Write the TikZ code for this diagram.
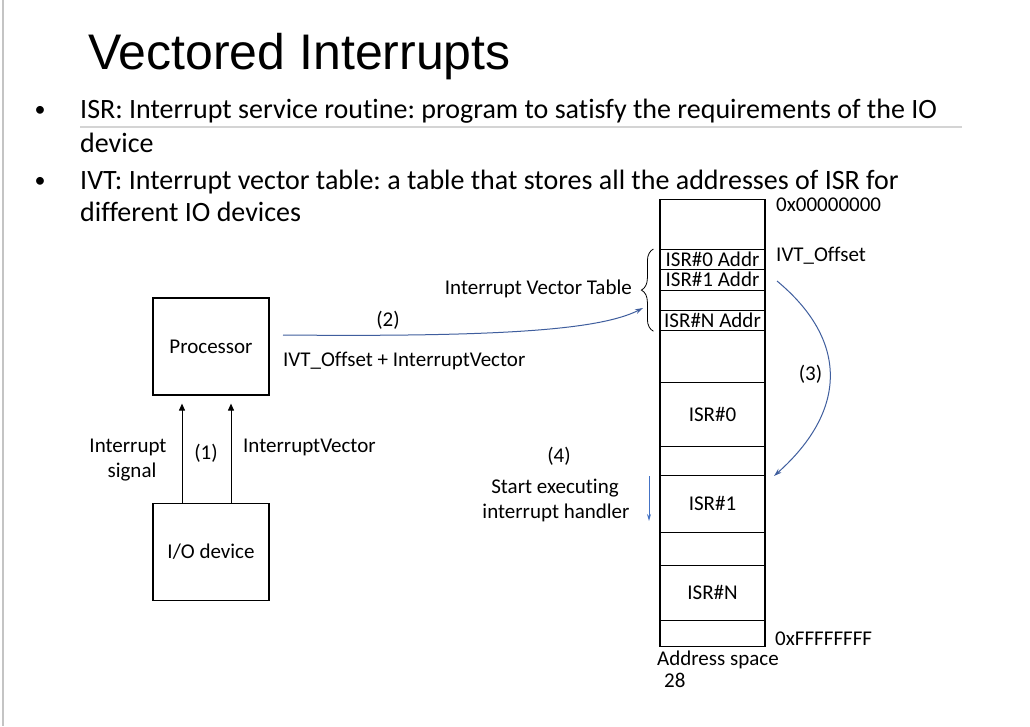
\documentclass[tikz,border=0pt]{standalone}
\usepackage{fontspec}
\setmainfont{Carlito}[RawFeature={-liga}]
\newfontfamily\titlefont{Liberation Sans}
\usetikzlibrary{arrows.meta,decorations.pathreplacing}
\definecolor{arrowblue}{HTML}{3F5E9E}
\definecolor{lightblue}{HTML}{4472C4}
\definecolor{rulegray}{HTML}{D4D4D4}
\definecolor{edgegray}{HTML}{C4C4C4}
\frenchspacing
\begin{document}
\begin{tikzpicture}[x=1pt,y=-1pt,
  txt/.style={inner sep=0pt, font=\fontsize{21}{25}\selectfont},
  bul/.style={inner sep=0pt, font=\fontsize{28}{34}\selectfont, anchor=base west},
  dot/.style={inner sep=0pt, font=\fontsize{22}{26}\selectfont, anchor=base},
  box/.style={draw, line width=1.2pt, minimum width=116pt, minimum height=97pt,
    inner sep=0pt, font=\fontsize{21}{25}\selectfont},
  cell/.style={draw, line width=1.2pt, minimum width=105pt, minimum height=#1,
    inner sep=0pt, anchor=north, text height=13pt, text depth=0pt,
    font=\fontsize{21}{25}\selectfont},
  blkarrow/.style={-{Triangle[length=7pt,width=6pt]}, line width=1pt},
  bluearrow/.style={-{Stealth[length=8pt,width=5pt]}, line width=1pt, arrowblue},
]
\useasboundingbox (0,0) rectangle (1030,726);
\fill[white] (0,0) rectangle (1030,726);

% slide frame edge
\draw[edgegray, line width=2pt] (3,0) -- (3,726);

% title
\node[anchor=base west, inner sep=0pt, font=\titlefont\fontsize{50}{60}\selectfont]
  (title) at (88,69) {Vectored Interrupts};

% bullet list
\node[dot] (b1) at (40,116) {•};
\node[bul] (l1) at (80,118) {ISR: Interrupt service routine: program to satisfy the requirements of the IO};
\node[bul] (l2) at (80,152) {device};
\node[dot] (b2) at (40,187) {•};
\node[bul] (l3) at (80,189) {IVT: Interrupt vector table: a table that stores all the addresses of ISR for};
\node[bul] (l4) at (80,221) {different IO devices};
\draw[rulegray, line width=1.5pt] (80,127) -- (962,127);

% processor and device
\node[box] (proc) at (211,346.5) {Processor};
\node[box] (io) at (211,552) {I/O device};
\draw[blkarrow, shorten >=8pt] ([xshift=-29pt]io.north) -- ([xshift=-29pt]proc.south);
\draw[blkarrow, shorten >=8pt] ([xshift=20pt]io.north) -- ([xshift=20pt]proc.south);
\node[txt, anchor=base] (sig1) at (128,452.5) {Interrupt};
\node[txt, anchor=base] (sig2) at (132,477.5) {signal};
\node[txt, anchor=base] (one) at (206,459) {(1)};
\node[txt, anchor=base west] (ivec) at (243,452.5) {InterruptVector};

% address space
\node[cell=50pt] (m0) at (712.5,199) {};
\node[cell=20pt] (m1) at (712.5,249) {ISR\#0 Addr};
\node[cell=21pt] (m2) at (712.5,269) {ISR\#1 Addr};
\node[cell=20pt] (m3) at (712.5,290) {};
\node[cell=20pt] (m4) at (712.5,310) {ISR\#N Addr};
\node[cell=52pt] (m5) at (712.5,330) {};
\node[cell=64pt] (m6) at (712.5,382) {ISR\#0};
\node[cell=29pt] (m7) at (712.5,446) {};
\node[cell=57pt] (m8) at (712.5,475) {ISR\#1};
\node[cell=33pt] (m9) at (712.5,532) {};
\node[cell=55pt] (m10) at (712.5,565) {ISR\#N};
\node[cell=26pt] (m11) at (712.5,620) {};

\node[txt, anchor=base west] (a0) at (776,211) {0x00000000};
\node[txt, anchor=base west] (ivto) at (776,261) {IVT\_Offset};
\node[txt, anchor=base west] (af) at (775,645) {0xFFFFFFFF};
\node[txt, anchor=base west] (asp) at (657,665) {Address space};
\node[txt, anchor=base west] (pg) at (664,687) {28};

% interrupt vector table brace
\draw[decorate, decoration={brace, amplitude=12pt}, line width=0.8pt]
  ([xshift=-6pt]m4.south west) -- ([xshift=-6pt]m1.north west);
\node[txt, anchor=base east] (ivt) at (632,294) {Interrupt Vector Table};

% (2) lookup in the table
\coordinate (p2s) at (283,335);
\coordinate (p2e) at (643,308);
\draw[bluearrow] (p2s) .. controls (500,337) and (600,330) .. (p2e);
\node[txt, anchor=base] (two) at (388,326) {(2)};
\node[txt, anchor=base west] (sum) at (283,366) {IVT\_Offset + InterruptVector};

% (3) jump to the routine
\coordinate (p3s) at (777,281);
\coordinate (p3e) at (774,476);
\draw[bluearrow] (p3s) .. controls (848,340) and (848,410) .. (p3e);
\node[txt, anchor=base] (three) at (810.5,380) {(3)};

% (4) execution
\coordinate (p4s) at (649,476);
\coordinate (p4e) at (649,521);
\draw[-{Stealth[length=7pt,width=4pt]}, lightblue, line width=1pt] (p4s) -- (p4e);
\node[txt, anchor=base] (four) at (559,462) {(4)};
\node[txt, anchor=base] (ex1) at (555,493) {Start executing};
\node[txt, anchor=base] (ex2) at (556,518) {interrupt handler};
\end{tikzpicture}
\end{document}
